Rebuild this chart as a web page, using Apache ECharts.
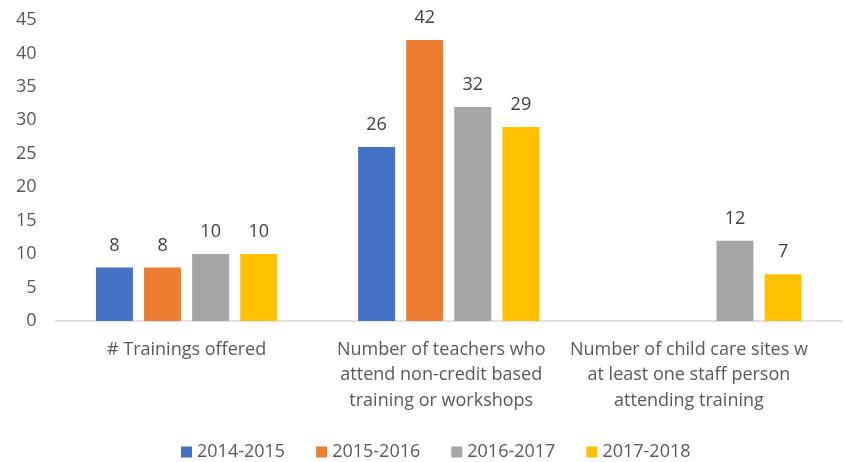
<!DOCTYPE html>
<html>
<head>
<meta charset="utf-8">
<script src="https://cdn.jsdelivr.net/npm/echarts@6/dist/echarts.min.js"></script>
<style>
html,body{margin:0;padding:0;background:#fff;}
#chart{width:851px;height:462px;}
</style>
</head>
<body>
<div id="chart"></div>
<script>
var categories = [
  "# Trainings offered",
  "Number of teachers who\nattend non-credit based\ntraining or workshops",
  "Number of child care sites w\nat least one staff person\nattending training"
];
var seriesNames = ["2014-2015", "2015-2016", "2016-2017", "2017-2018"];
var values2014 = [8, 26, null];
var values2015 = [8, 42, null];
var values2016 = [10, 32, 12];
var values2017 = [10, 29, 7];
var colors = ["#4472C4", "#ED7D31", "#A5A5A5", "#FFC000"];

var allValues = [values2014, values2015, values2016, values2017];
var FONT = "Open Sans";
var TXT = "#595959";
// horizontal nudge (right padding) of each category label, layout only
var labelShift = [0, 15, 44];

var chart = echarts.init(document.getElementById("chart"), null, {renderer: "canvas"});
chart.setOption({
  animation: false,
  backgroundColor: "#ffffff",
  color: colors,
  grid: {left: 55.5, right: 9, top: 20, bottom: 141, containLabel: false, outerBoundsMode: "none"},
  legend: {
    data: seriesNames,
    left: 181,
    top: 443,
    padding: 0,
    itemWidth: 11,
    itemHeight: 11,
    itemGap: 31,
    icon: "rect",
    textStyle: {fontFamily: FONT, fontSize: 18, color: TXT}
  },
  xAxis: {
    type: "category",
    data: categories.map(function (c, i) {
      return {value: c, textStyle: {padding: [0, labelShift[i], 0, 0]}};
    }),
    axisLine: {show: true, lineStyle: {color: "#D9D9D9", width: 1.5}},
    axisTick: {show: false},
    axisLabel: {fontFamily: FONT, fontSize: 18, color: TXT, lineHeight: 25.5, margin: 16, interval: 0, hideOverlap: false}
  },
  yAxis: {
    type: "value",
    min: 0,
    max: 45,
    interval: 5,
    axisLine: {show: false},
    axisTick: {show: false},
    splitLine: {show: false},
    axisLabel: {fontFamily: FONT, fontSize: 18, color: TXT, margin: 19}
  },
  series: allValues.map(function (vals, i) {
    return {
      name: seriesNames[i],
      type: "bar",
      data: vals,
      barWidth: 37,
      barGap: "30%",
      itemStyle: {color: colors[i]},
      label: {
        show: true,
        position: "top",
        distance: 13,
        fontFamily: FONT,
        fontSize: 18,
        color: "#404040"
      }
    };
  })
});
</script>
</body>
</html>
